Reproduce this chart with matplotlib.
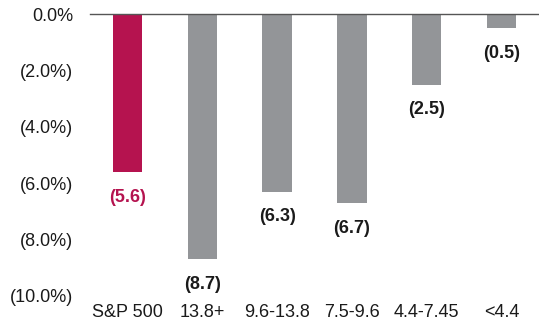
import matplotlib.pyplot as plt

categories = ["S&P 500", "13.8+", "9.6-13.8", "7.5-9.6", "4.4-7.45", "<4.4"]
values = [-5.6, -8.7, -6.3, -6.7, -2.5, -0.5]
yticks = [0, -2, -4, -6, -8, -10]

highlight = "#B5134F"
gray = "#939598"
colors = [highlight] + [gray] * 5

plt.rcParams["font.family"] = ["Liberation Sans", "DejaVu Sans"]

fig = plt.figure(figsize=(5.39, 3.28), dpi=100)
ax = fig.add_axes([0.167, 0.0976, 0.833, 0.8597])

x = list(range(len(categories)))
ax.bar(x, values, width=0.39, color=colors)

for xi, v, c in zip(x, values, colors):
    ax.annotate(f"({abs(v):.1f})", (xi, v), xytext=(0, -12), textcoords="offset points",
                ha="center", va="top", fontsize=13, fontweight="bold",
                color=highlight if c == highlight else "#1a1a1a")

ax.set_xlim(-0.5, len(categories) - 0.5)
ax.set_ylim(-10, 0)
ax.set_yticks(yticks)
ax.set_yticklabels(["0.0%" if t == 0 else f"({abs(t):.1f}%)" for t in yticks])
ax.set_xticks(x)
ax.set_xticklabels(categories)
ax.tick_params(axis="both", length=0, labelsize=13, colors="#1a1a1a")
ax.tick_params(axis="y", pad=12)
ax.tick_params(axis="x", pad=6)

for s in ["left", "right", "bottom"]:
    ax.spines[s].set_visible(False)
ax.spines["top"].set_color("#555555")
ax.spines["top"].set_linewidth(1)

fig.savefig("out.png", dpi=100)
